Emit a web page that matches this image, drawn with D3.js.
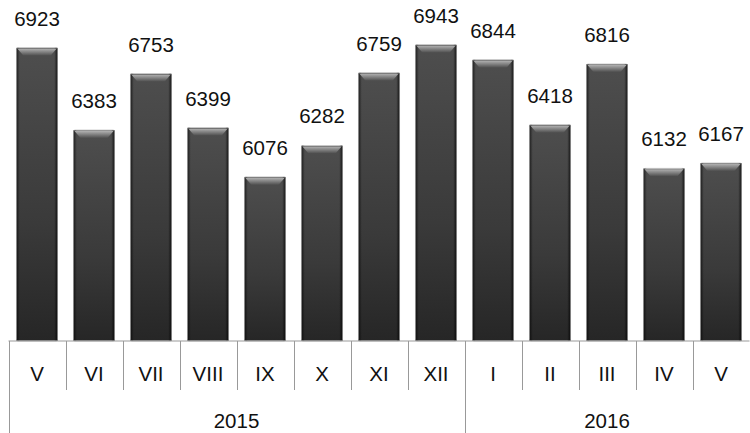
<!DOCTYPE html>
<html><head><meta charset="utf-8">
<script src="https://cdn.jsdelivr.net/npm/d3@7"></script>
<style>body{margin:0;background:#fff}svg{display:block}</style>
</head><body><svg id="c" width="750" height="433"></svg>
<script>
const months = ["V","VI","VII","VIII","IX","X","XI","XII","I","II","III","IV","V"];
const values = [6923,6383,6753,6399,6076,6282,6759,6943,6844,6418,6816,6132,6167];
const years = ["2015","2016"];
const yearSpans = [8,5];

const svg = d3.select("#c");
const W = 750, H = 433;
const left = 8.5, right = 749.5, base = 341;
const font = "Liberation Sans, Arial, sans-serif";
const ids = months.map((m,i)=>"b"+i);
const x = d3.scaleBand().domain(ids).range([left,right]).paddingInner(0.28).paddingOuter(0.14);
const y = d3.scaleLinear().domain([5000,7000]).range([base,36]);

const defs = svg.append("defs");
const g1 = defs.append("linearGradient").attr("id","vg").attr("x1",0).attr("x2",0).attr("y1",0).attr("y2",1);
g1.append("stop").attr("offset","0%").attr("stop-color","#4e4e4e");
g1.append("stop").attr("offset","60%").attr("stop-color","#3a3a3a");
g1.append("stop").attr("offset","100%").attr("stop-color","#262626");
const g2 = defs.append("linearGradient").attr("id","hg").attr("x1",0).attr("x2",1).attr("y1",0).attr("y2",0);
g2.append("stop").attr("offset","0%").attr("stop-color","#000").attr("stop-opacity",0.6);
g2.append("stop").attr("offset","8%").attr("stop-color","#000").attr("stop-opacity",0);
g2.append("stop").attr("offset","92%").attr("stop-color","#000").attr("stop-opacity",0);
g2.append("stop").attr("offset","100%").attr("stop-color","#000").attr("stop-opacity",0.7);
const g3 = defs.append("linearGradient").attr("id","tg").attr("x1",0).attr("x2",0).attr("y1",0).attr("y2",1);
g3.append("stop").attr("offset","0%").attr("stop-color","#b0b0b0");
g3.append("stop").attr("offset","100%").attr("stop-color","#4e4e4e");

const bars = svg.append("g").selectAll("g").data(values).join("g");
bars.append("rect")
  .attr("x",(d,i)=>x(ids[i])).attr("y",d=>y(d))
  .attr("width",x.bandwidth()).attr("height",d=>base-y(d))
  .attr("fill","url(#vg)").attr("stroke","#c8c8c8").attr("stroke-width",1).attr("rx",1.5);
bars.append("rect")
  .attr("x",(d,i)=>x(ids[i])).attr("y",d=>y(d))
  .attr("width",x.bandwidth()).attr("height",d=>base-y(d))
  .attr("fill","url(#hg)");
bars.append("path")
  .attr("d",(d,i)=>{const x0=x(ids[i]),x1=x0+x.bandwidth(),t=y(d);
    return `M${x0+1},${t+1}L${x1-1},${t+1}L${x1-7},${t+8}L${x0+7},${t+8}Z`;})
  .attr("fill","url(#tg)");

svg.append("g").selectAll("text").data(values).join("text")
  .attr("x",(d,i)=>x(ids[i])+x.bandwidth()/2).attr("y",d=>y(d)-22)
  .attr("text-anchor","middle").attr("font-family",font)
  .attr("font-size",20.5).attr("fill","#111").text(d=>d);

// axis table
const step = x.step();
const ax = svg.append("g").attr("stroke","#999").attr("stroke-width",1).attr("fill","none");
ax.append("line").attr("x1",left).attr("x2",right).attr("y1",base).attr("y2",base);
const bounds = d3.range(months.length+1).map(i=>left+i*step);
let cum=[0]; yearSpans.forEach(s=>cum.push(cum[cum.length-1]+s));
ax.selectAll("line.sep").data(bounds).join("line").attr("class","sep")
  .attr("x1",d=>Math.round(d)+0.5).attr("x2",d=>Math.round(d)+0.5)
  .attr("y1",base).attr("y2",(d,i)=>cum.includes(i)?H:390);

svg.append("g").selectAll("text").data(months).join("text")
  .attr("x",(d,i)=>x(ids[i])+x.bandwidth()/2).attr("y",380.5)
  .attr("text-anchor","middle").attr("font-family",font)
  .attr("font-size",20.5).attr("fill","#111").text(d=>d);
svg.append("g").selectAll("text").data(years).join("text")
  .attr("x",(d,i)=>left+(cum[i]+cum[i+1])/2*step).attr("y",428)
  .attr("text-anchor","middle").attr("font-family",font)
  .attr("font-size",20.5).attr("fill","#111").text(d=>d);
</script></body></html>
